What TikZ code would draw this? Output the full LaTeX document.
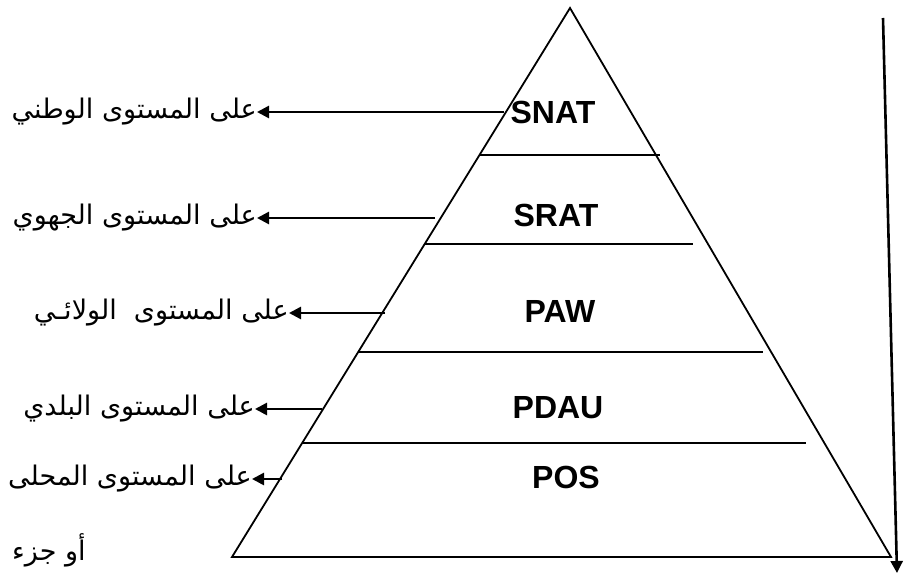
\documentclass[tikz,border=0pt]{standalone}
\usepackage{fontspec}
\setmainfont{Liberation Sans}
\newfontfamily\arabicfont[Script=Arabic]{DejaVu Sans}
\TeXXeTstate=1
\usetikzlibrary{arrows.meta,positioning}

\begin{document}
\begin{tikzpicture}[x=1pt,y=-1pt,
		level/.style={font=\fontsize{32}{36}\selectfont\bfseries, inner sep=0pt},
		place/.style={font=\fontsize{27}{32}\selectfont\arabicfont, anchor=east, inner sep=0pt},
		divider/.style={line width=1.8pt},
		link/.style={line width=2.6pt, -{Triangle[length=12pt,width=12pt]}}]

	\useasboundingbox (0,0) rectangle (908,575);

	% pyramid
	\coordinate (top) at (570,8);
	\coordinate (baseleft) at (232,557);
	\coordinate (baseright) at (891,557);
	\draw[line width=1.8pt] (top) -- (baseleft) -- (baseright) -- cycle;
	\foreach \y/\l/\r in {155/479/660, 244/425/693, 352/358/763, 443/302/806}
		\draw[divider] (\l,\y) -- (\r,\y);

	% levels
	\node[level] (snat) at (553,112) {SNAT};
	\node[level] (srat) at (556,215) {SRAT};
	\node[level] (paw) at (560,311) {PAW};
	\node[level] (pdau) at (558,408) {PDAU};
	\node[level] (pos) at (566,477) {POS};

	% scales
	\node[place] (national) at (257,112) {\beginR على المستوى الوطني\endR};
	\node[place] (regional) at (257,218) {\beginR على المستوى الجهوي\endR};
	\node[place] (wilaya) at (289,313) {\beginR على المستوى\ \ الولائـي\endR};
	\node[place] (communal) at (255,409) {\beginR على المستوى البلدي\endR};
	\node[place] (local) at (252,479) {\beginR على المستوى المحلى\endR};
	\node[place, anchor=west] (localpart) at (12,550) {\beginR أو جزء\endR};

	\coordinate (n1) at (504,112);
	\coordinate (n2) at (435,218);
	\coordinate (n3) at (385,313);
	\coordinate (n4) at (322,409);
	\coordinate (n5) at (282,479);
	\draw[link] (n1) -- (national);
	\draw[link] (n2) -- (regional);
	\draw[link] (n3) -- (wilaya);
	\draw[link] (n4) -- (communal);
	\draw[link] (n5) -- (local);

	% downward reading
	\coordinate (downtop) at (883,18);
	\coordinate (downend) at (897,573);
	\draw[link] (downtop) -- (downend);
\end{tikzpicture}
\end{document}
